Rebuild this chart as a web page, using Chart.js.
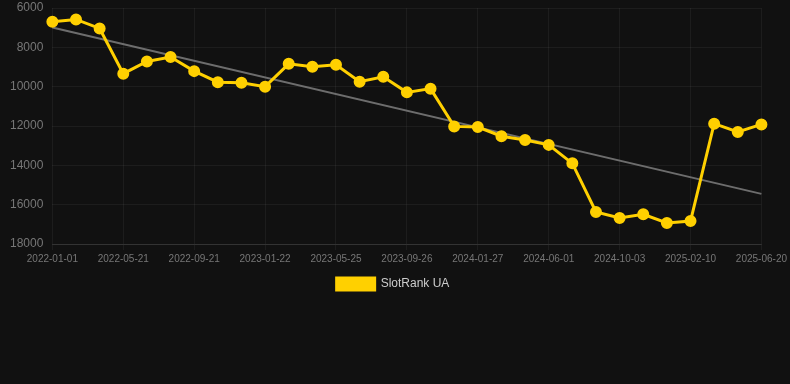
<!DOCTYPE html>
<html>
<head>
<meta charset="utf-8">
<script src="https://cdn.jsdelivr.net/npm/chart.js@4"></script>
<style>
  html, body { margin: 0; padding: 0; background: #111111; }
  #wrap { position: relative; width: 790px; height: 300px; }
</style>
</head>
<body>
<div id="wrap"><canvas id="c"></canvas></div>
<script>
const labels = [
  "2022-01-01","2022-02-16","2022-04-04","2022-05-21","2022-07-01","2022-08-11",
  "2022-09-21","2022-11-01","2022-12-12","2023-01-22","2023-03-04","2023-04-14",
  "2023-05-25","2023-07-05","2023-08-15","2023-09-26","2023-11-06","2023-12-17",
  "2024-01-27","2024-03-09","2024-04-20","2024-06-01","2024-07-12","2024-08-22",
  "2024-10-03","2024-11-14","2024-12-27","2025-02-10","2025-03-25","2025-05-07",
  "2025-06-20"
];
const rankUA = [
  6700, 6580, 7040, 9340, 8720, 8490, 9210, 9770, 9800, 10000, 8840, 8990,
  8890, 9750, 9500, 10290, 10100, 12020, 12050, 12520, 12710, 12960, 13900, 16370,
  16680, 16490, 16930, 16830, 11880, 12300, 11920
];
const trendStart = 6990;
const trendEnd = 15450;
const yTicks = [6000, 8000, 10000, 12000, 14000, 16000, 18000];

const trend = labels.map((_, i) => i === 0 ? trendStart : (i === labels.length - 1 ? trendEnd : null));
const FONT = 'Arial, "Liberation Sans", sans-serif';

new Chart(document.getElementById('c'), {
  type: 'line',
  data: {
    labels: labels,
    datasets: [
      {
        label: 'SlotRank UA',
        data: rankUA,
        borderColor: '#FFD000',
        backgroundColor: '#FFD000',
        borderWidth: 3,
        pointRadius: 4.5,
        pointHoverRadius: 5,
        pointBackgroundColor: '#FFD000',
        pointBorderColor: '#FFD000',
        tension: 0,
        order: 1
      },
      {
        label: 'trend',
        data: trend,
        spanGaps: true,
        borderColor: 'rgba(120,120,120,0.9)',
        borderWidth: 2,
        pointRadius: 0,
        fill: false,
        order: 2
      }
    ]
  },
  options: {
    responsive: true,
    maintainAspectRatio: false,
    animation: false,
    layout: { padding: { top: 0, right: 4, left: 0, bottom: 0 } },
    plugins: {
      legend: {
        position: 'bottom',
        labels: {
          color: '#cccccc',
          font: { family: FONT, size: 12 },
          boxWidth: 38,
          boxHeight: 12,
          filter: (item) => item.text !== 'trend'
        }
      },
      tooltip: { enabled: false }
    },
    scales: {
      x: {
        offset: false,
        grid: {
          color: (ctx) => (ctx.index % 3 === 0 ? 'rgba(255,255,255,0.05)' : 'rgba(0,0,0,0)'),
          drawTicks: true,
          tickLength: 6
        },
        border: { color: 'rgba(255,255,255,0.1)' },
        ticks: {
          color: '#777777',
          font: { family: FONT, size: 10 },
          autoSkip: false,
          maxRotation: 0,
          callback: function(v, i) { return i % 3 === 0 ? labels[i] : ''; }
        }
      },
      y: {
        reverse: true,
        min: 6000,
        max: 18000,
        grid: {
          color: 'rgba(255,255,255,0.05)',
          drawTicks: true,
          tickLength: 9,
          tickColor: 'rgba(0,0,0,0)'
        },
        border: { display: false },
        afterBuildTicks: (axis) => { axis.ticks = yTicks.map(v => ({ value: v })); },
        afterFit: (axis) => { axis.width += 10; },
        ticks: {
          color: '#777777',
          padding: 0,
          font: { family: FONT, size: 12 },
          callback: (v) => String(v)
        }
      }
    }
  }
});
</script>
</body>
</html>
